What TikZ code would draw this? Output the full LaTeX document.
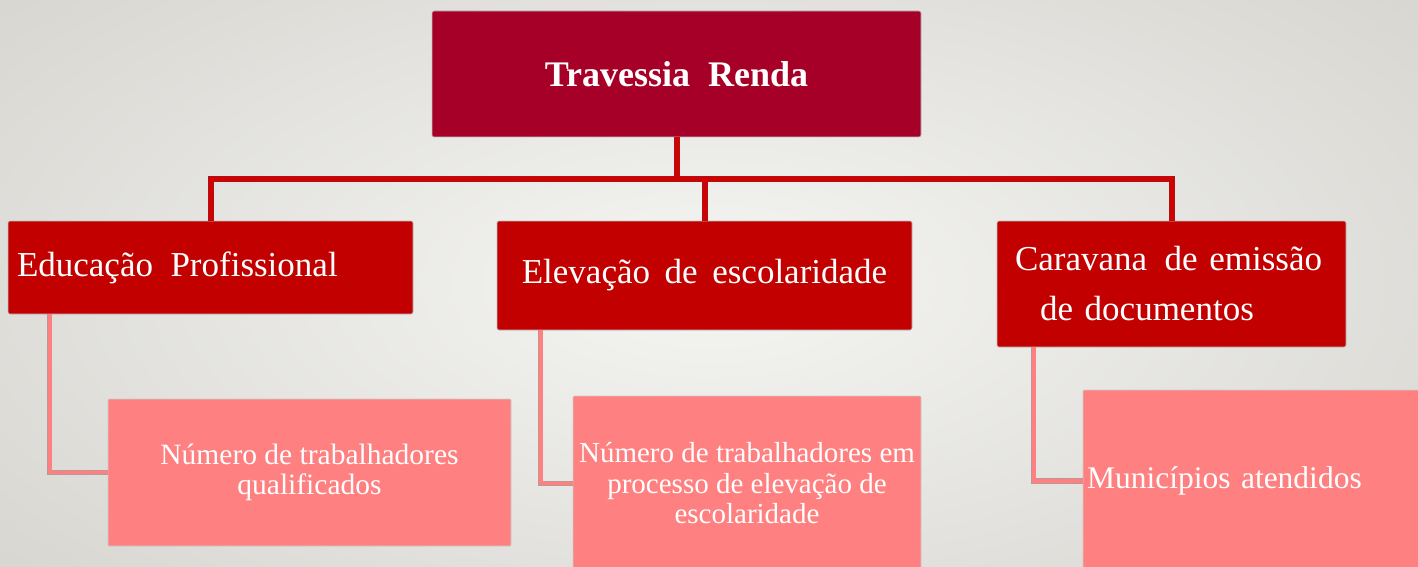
\documentclass[tikz,border=0pt]{standalone}
\usepackage{fontspec}
\setmainfont{Liberation Serif}
\usetikzlibrary{positioning}
\definecolor{wine}{RGB}{167,0,40}
\definecolor{redbox}{RGB}{194,0,0}
\definecolor{pinkbox}{RGB}{255,128,128}
\definecolor{busred}{RGB}{210,0,0}
\definecolor{busedge}{RGB}{170,20,20}
\definecolor{legedge}{RGB}{190,150,150}
\definecolor{bgout}{RGB}{216,215,210}
\definecolor{bgin}{RGB}{245,245,243}
\begin{document}
\begin{tikzpicture}
[x=1pt,y=-1pt,
head/.style={rectangle,rounded corners=2pt,fill=wine,draw=black!25,line width=0.6pt,
  inner sep=0pt,text=white,font=\fontsize{36}{44}\selectfont\bfseries},
area/.style={rectangle,rounded corners=2pt,fill=redbox,draw=black!25,line width=0.6pt,
  inner sep=0pt,text=white,font=\fontsize{35}{50}\selectfont},
goal/.style={rectangle,rounded corners=1pt,fill=pinkbox,draw=black!20,line width=0.6pt,
  inner sep=0pt,text=white,font=\fontsize{29}{30.5}\selectfont},
bus/.style={draw=busedge,line width=6pt,postaction={draw=busred,line width=4pt}},
leg/.style={draw=legedge,line width=5.5pt,postaction={draw=pinkbox,line width=3.6pt}}]
%background
\useasboundingbox (0,0) rectangle (1418,567);
\shade[inner color=bgin,outer color=bgout] (-200,-150) rectangle (1618,717);
\begin{scope}
\clip (0,0) rectangle (1418,567);
%level 1
\node[head,minimum width=489,minimum height=126] (top) at (676.5,74) {Travessia\ \ Renda};
%level 2
\node[area,minimum width=405,minimum height=93,text width=387,align=left] (edu) at (210.5,267.5)
  {Educação\ \,Profissional};
\node[area,minimum width=415,minimum height=109] (elev) at (704.5,275.5)
  {Elevação\ \,de\ \,escolaridade};
\node[area,minimum width=349,minimum height=126,text width=313,align=left] (carav) at (1171.5,284)
  {Caravana\ \,de\ emissão\\\hspace*{25pt}de\ documentos};
%level 3
\node[goal,minimum width=403,minimum height=147,align=center,font=\fontsize{29.5}{30.5}\selectfont] (num1) at (309.5,472.5)
  {Número de trabalhadores\\qualificados};
\node[goal,minimum width=348,minimum height=175,align=center] (num2) at (747,483.5)
  {Número de trabalhadores em\\processo de elevação de\\escolaridade};
\node[goal,minimum width=340,minimum height=182,text width=332,align=left,font=\fontsize{31.5}{34}\selectfont] (num3) at (1253,481)
  {Municípios atendidos};
%links
\coordinate (line) at (0,179);
\draw[bus] (edu.north) -- (edu.north |- line) -- (carav.north |- line) -- (carav.north)
  (elev.north) -- (elev.north |- line)
  (top.south) -- (top.south |- line);
\draw[leg] ([xshift=42pt]edu.south west) |- (num1.west);
\draw[leg] ([xshift=44pt]elev.south west) |- (num2.west);
\draw[leg] ([xshift=37pt]carav.south west) |- (num3.west);
\end{scope}
\end{tikzpicture}
\end{document}
